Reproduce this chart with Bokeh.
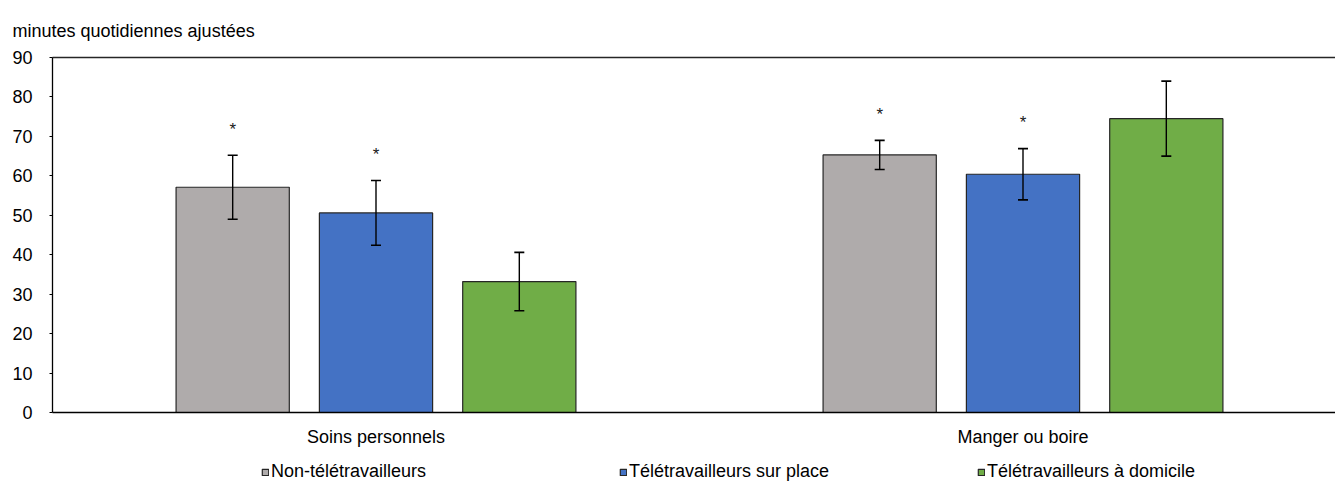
from bokeh.plotting import figure
from bokeh.layouts import column
from bokeh.models import (Range1d, FixedTicker, LinearAxis,
                          ColumnDataSource, Legend, LegendItem)
from bokeh.core.properties import value
from bokeh.embed import file_html
from bokeh.resources import INLINE

# ---- data ----
categories = ["Soins personnels", "Manger ou boire"]
series = ["Non-télétravailleurs", "Télétravailleurs sur place", "Télétravailleurs à domicile"]
non_tele = [57.1, 65.3]
tele_place = [50.6, 60.4]
tele_dom = [33.2, 74.5]
err_non = [8.1, 3.7]
err_place = [8.2, 6.5]
err_dom = [7.4, 9.5]
sig_non = [True, True]
sig_place = [True, True]
sig_dom = [False, False]
y_ticks = [0, 10, 20, 30, 40, 50, 60, 70, 80, 90]
y_label = "minutes quotidiennes ajustées"

colors = ["#AFABAB", "#4472C4", "#70AD47"]
FONT = "Liberation Sans"
FS = "18px"

W, H = 1335, 483
LEG_H = 34
LEFT = 52
unit = 647.0
x_end = (W - LEFT) / unit

p = figure(width=W, height=H - LEG_H, output_backend="svg", toolbar_location=None,
           x_range=Range1d(0, x_end), y_range=Range1d(0, 90),
           min_border_left=LEFT, min_border_right=0, min_border_top=57,
           min_border_bottom=37)
p.grid.visible = False
p.outline_line_color = None
p.background_fill_color = "white"
p.border_fill_color = "white"

p.title.text = y_label
p.title.text_font = FONT
p.title.text_font_size = FS
p.title.text_font_style = "normal"
p.title.text_color = "#000000"
p.title.align = "left"
p.title.offset = -40
p.title.standoff = 34

offsets = [-0.2215, 0.0, 0.2215]
bw = 0.175
vals = [non_tele, tele_place, tele_dom]
errs = [err_non, err_place, err_dom]
sigs = [sig_non, sig_place, sig_dom]

sources = []
for i, (v, e, s) in enumerate(zip(vals, errs, sigs)):
    xs = [k + 0.5 + offsets[i] for k in range(len(categories))]
    src = ColumnDataSource(dict(x=xs, top=v,
                                upper=[a + b for a, b in zip(v, e)],
                                lower=[a - b for a, b in zip(v, e)]))
    sources.append(src)
    p.vbar(x="x", top="top", width=bw, source=src, fill_color=colors[i],
           line_color="#262626", line_width=1.2)
    p.segment(x0="x", y0="lower", x1="x", y1="upper", source=src,
              line_color="#000000", line_width=1.4)
    p.scatter(x="x", y="upper", source=src, marker="dash", size=10,
              line_color="#000000", line_width=1.6)
    p.scatter(x="x", y="lower", source=src, marker="dash", size=10,
              line_color="#000000", line_width=1.6)
    sx = [x for x, f in zip(xs, s) if f]
    sy = [a + b + 6.6 for a, b, f in zip(v, e, s) if f]
    if sx:
        p.text(x=sx, y=sy, text=["*"] * len(sx), text_align="center",
               text_baseline="middle", text_font=value(FONT),
               text_font_size="17px", text_color="#1a1a1a")

# axes
xa = p.xaxis[0]
xa.ticker = FixedTicker(ticks=[k + 0.5 for k in range(len(categories))])
xa.major_label_overrides = {k + 0.5: c for k, c in enumerate(categories)}
xa.major_tick_line_color = None
xa.minor_tick_line_color = None
xa.axis_line_color = "#000000"
xa.axis_line_width = 1.3
xa.major_label_text_font = FONT
xa.major_label_text_font_size = FS
xa.major_label_text_color = "#000000"
xa.major_label_standoff = 8

ya = p.yaxis[0]
ya.ticker = FixedTicker(ticks=y_ticks)
ya.minor_tick_line_color = None
ya.major_tick_in = 0
ya.major_tick_out = 3
ya.major_tick_line_color = "#000000"
ya.axis_line_color = "#000000"
ya.axis_line_width = 1.3
ya.major_label_text_font = FONT
ya.major_label_text_font_size = FS
ya.major_label_text_color = "#000000"
ya.major_label_standoff = 17

top_axis = LinearAxis(major_tick_line_color=None, minor_tick_line_color=None,
                      major_label_text_font_size="0px", axis_line_color="#262626",
                      axis_line_width=1.3)
top_axis.ticker = FixedTicker(ticks=[])
p.add_layout(top_axis, "above")

# legend strip (separate figure under the axis labels; its frame is aligned
# with the main frame, so the bars drawn here fall outside its y range)
lf = figure(width=W, height=LEG_H, output_backend="svg", toolbar_location=None,
            x_range=p.x_range, y_range=Range1d(1000, 1001),
            min_border_left=0, min_border_right=0, min_border_top=0,
            min_border_bottom=0)
lf.axis.visible = False
lf.grid.visible = False
lf.outline_line_color = None
lf.border_fill_color = "white"
items = []
for s, c, src in zip(series, colors, sources):
    r = lf.vbar(x="x", top="top", width=bw, source=src, fill_color=c,
                line_color="#262626", line_width=1.2)
    items.append(LegendItem(label=s, renderers=[r]))
legend = Legend(items=items, orientation="horizontal", location=(209, 1),
                glyph_width=8, glyph_height=8, label_standoff=2, spacing=0,
                label_width=348, padding=0, margin=0,
                label_text_font=FONT, label_text_font_size=FS,
                label_text_color="#000000", border_line_color=None,
                background_fill_alpha=0, label_height=18)
lf.add_layout(legend, "center")

open("out.html", "w").write(file_html(column(p, lf, spacing=0), INLINE))
